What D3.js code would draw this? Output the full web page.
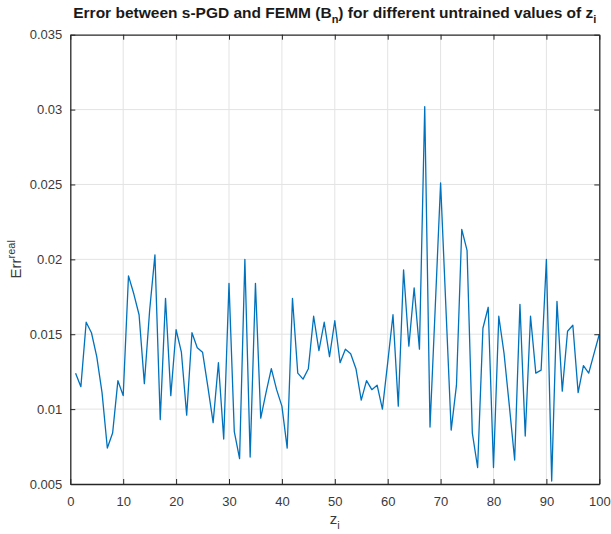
<!DOCTYPE html>
<html>
<head>
<meta charset="utf-8">
<script src="https://cdn.jsdelivr.net/npm/d3@7"></script>
<style>
  html, body { margin: 0; padding: 0; background: #fff; }
  svg { display: block; }
  text { font-family: "Liberation Sans", Arial, Helvetica, sans-serif; }
</style>
</head>
<body>
<svg id="chart" width="611" height="534"></svg>
<script>
// ---- data ----
const zValues = [1,2,3,4,5,6,7,8,9,10,11,12,13,14,15,16,17,18,19,20,
  21,22,23,24,25,26,27,28,29,30,31,32,33,34,35,36,37,38,39,40,
  41,42,43,44,45,46,47,48,49,50,51,52,53,54,55,56,57,58,59,60,
  61,62,63,64,65,66,67,68,69,70,71,72,73,74,75,76,77,78,79,80,
  81,82,83,84,85,86,87,88,89,90,91,92,93,94,95,96,97,98,99,100];
const errValues = [
  0.0124,0.0115,0.0158,0.0151,0.0135,0.0111,0.0074,0.0084,0.0119,0.0109,
  0.0189,0.0177,0.0163,0.0117,0.0166,0.0203,0.0093,0.0174,0.0109,0.0153,
  0.0138,0.0096,0.0151,0.0141,0.0138,0.0115,0.0091,0.0131,0.0080,0.0184,
  0.0085,0.0067,0.0200,0.0068,0.0184,0.0094,0.0111,0.0127,0.0113,0.0102,
  0.0074,0.0174,0.0124,0.0120,0.0127,0.0162,0.0139,0.0158,0.0135,0.0159,
  0.0131,0.0140,0.0137,0.0127,0.0106,0.0119,0.0113,0.0116,0.0100,0.0131,
  0.0163,0.0102,0.0193,0.0142,0.0181,0.0140,0.0302,0.0088,0.0169,0.0251,
  0.0168,0.0086,0.0116,0.0220,0.0206,0.0084,0.0061,0.0154,0.0168,0.0061,
  0.0162,0.0137,0.0102,0.0066,0.0170,0.0082,0.0162,0.0124,0.0126,0.0200,
  0.0052,0.0172,0.0112,0.0152,0.0156,0.0111,0.0129,0.0124,0.0137,0.0150
];
const xTicks = [0,10,20,30,40,50,60,70,80,90,100];
const yTicks = [0.005,0.01,0.015,0.02,0.025,0.03,0.035];
const yTickLabels = ["0.005","0.01","0.015","0.02","0.025","0.03","0.035"];
const xDomain = [0,100];
const yDomain = [0.005,0.035];

// ---- layout ----
const svg = d3.select("#chart");
const L = 70.3, R = 599.3, T = 34.7, B = 484;
const x = d3.scaleLinear().domain(xDomain).range([L, R]);
const y = d3.scaleLinear().domain(yDomain).range([B, T]);
const axisColor = "#262626";
const textColor = "#3a3a3a";
const gridColor = "#e3e3e3";
const tickLen = 5;

// grid
const grid = svg.append("g");
grid.selectAll("line.gx").data(xTicks.slice(1, -1)).enter().append("line")
  .attr("x1", d => x(d)).attr("x2", d => x(d))
  .attr("y1", T).attr("y2", B)
  .attr("stroke", gridColor).attr("stroke-width", 1);
grid.selectAll("line.gy").data(yTicks.slice(1, -1)).enter().append("line")
  .attr("x1", L).attr("x2", R)
  .attr("y1", d => y(d)).attr("y2", d => y(d))
  .attr("stroke", gridColor).attr("stroke-width", 1);

// data line
const line = d3.line().x((d, i) => x(zValues[i])).y(d => y(d));
svg.append("path")
  .datum(errValues)
  .attr("d", line)
  .attr("fill", "none")
  .attr("stroke", "#0072BD")
  .attr("stroke-width", 1.3)
  .attr("stroke-linejoin", "round");

// axes (inner ticks)
const xAxisB = d3.axisBottom(x).tickValues(xTicks).tickSizeInner(-tickLen).tickSizeOuter(0).tickPadding(13).tickFormat(d3.format("d"));
const xAxisT = d3.axisTop(x).tickValues(xTicks).tickSizeInner(-tickLen).tickSizeOuter(0).tickFormat("");
const yAxisL = d3.axisLeft(y).tickValues(yTicks).tickSizeInner(-tickLen).tickSizeOuter(0).tickPadding(8)
  .tickFormat((d, i) => yTickLabels[i]);
const yAxisR = d3.axisRight(y).tickValues(yTicks).tickSizeInner(-tickLen).tickSizeOuter(0).tickFormat("");

function styleAxis(g) {
  g.select(".domain").attr("stroke", axisColor).attr("stroke-width", 1.3);
  g.selectAll(".tick line").attr("stroke", axisColor).attr("stroke-width", 1);
  g.selectAll(".tick text").attr("fill", textColor).style("font-size", "13px")
    .style("font-family", "'Liberation Sans', Arial, Helvetica, sans-serif");
}
svg.append("g").attr("transform", `translate(0,${B})`).call(xAxisB).call(styleAxis);
svg.append("g").attr("transform", `translate(0,${T})`).call(xAxisT).call(styleAxis);
svg.append("g").attr("transform", `translate(${L},0)`).call(yAxisL).call(styleAxis);
svg.append("g").attr("transform", `translate(${R},0)`).call(yAxisR).call(styleAxis);

// title
const title = svg.append("text")
  .attr("x", (L + R) / 2).attr("y", 18)
  .attr("text-anchor", "middle")
  .attr("fill", "#1a1a1a")
  .style("font-size", "15.5px").style("font-weight", "bold");
title.append("tspan").text("Error between s-PGD and FEMM (B");
title.append("tspan").text("n").attr("dy", 5).style("font-size", "11px");
title.append("tspan").text(") for different untrained values of z").attr("dy", -5);
title.append("tspan").text("i").attr("dy", 5).style("font-size", "11px");

// x label
const xl = svg.append("text")
  .attr("x", (L + R) / 2).attr("y", 524)
  .attr("text-anchor", "middle").attr("fill", textColor)
  .style("font-size", "15px");
xl.append("tspan").text("z");
xl.append("tspan").text("i").attr("dy", 5).style("font-size", "11px");

// y label
const yl = svg.append("text")
  .attr("transform", `translate(21,${(T + B) / 2}) rotate(-90)`)
  .attr("text-anchor", "middle").attr("fill", textColor)
  .style("font-size", "15px");
yl.append("tspan").text("Err");
yl.append("tspan").text("real").attr("dy", -6).style("font-size", "11px");
</script>
</body>
</html>
